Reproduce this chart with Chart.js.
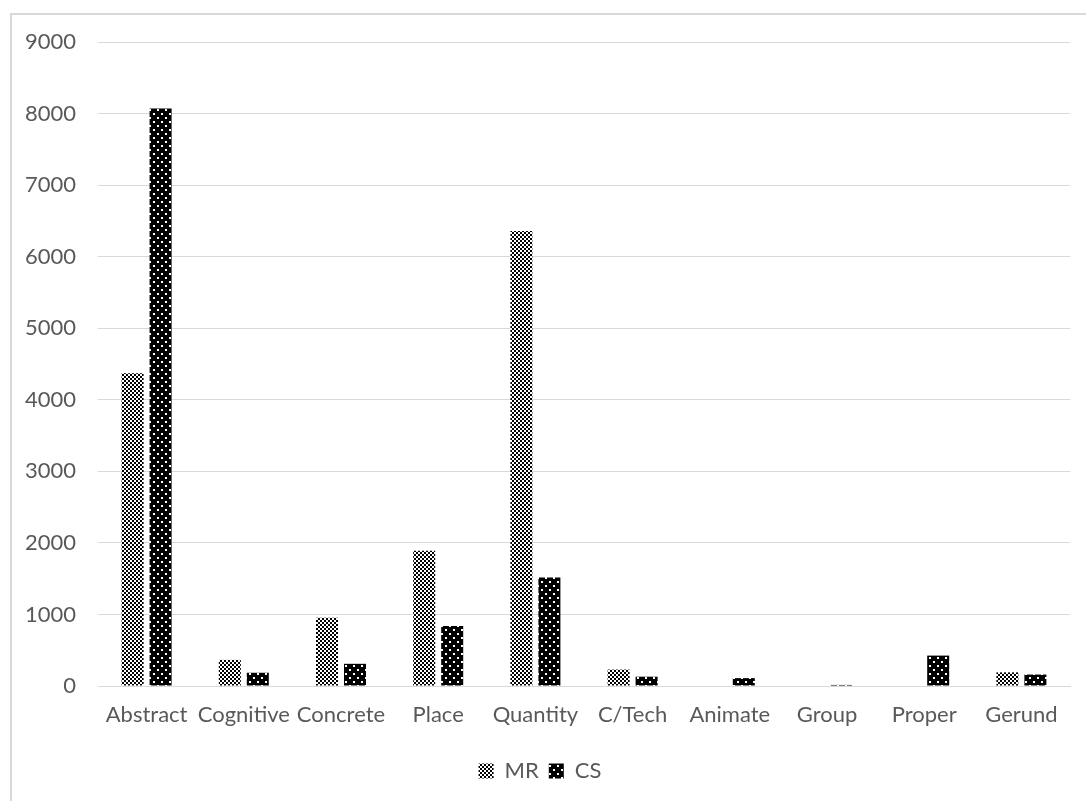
<!DOCTYPE html>
<html>
<head>
<meta charset="utf-8">
<script src="https://cdn.jsdelivr.net/npm/chart.js@4/dist/chart.umd.min.js"></script>
<style>
  html, body { margin: 0; padding: 0; background: #ffffff; }
  #wrap { position: relative; width: 1086px; height: 801px; overflow: hidden; }
  #frame { position: absolute; left: 10px; top: 13px; width: 1200px; height: 900px;
           border-left: 2px solid #d9d9d9; border-top: 2px solid #d9d9d9; box-sizing: border-box; }
  #c { position: absolute; left: 0; top: 0; }
</style>
</head>
<body>
<div id="wrap">
  <div id="frame"></div>
  <canvas id="c" width="1086" height="801"></canvas>
</div>
<script>
// Noun categories and counts per corpus
const categories = ['Abstract', 'Cognitive', 'Concrete', 'Place', 'Quantity', 'C/Tech', 'Animate', 'Group', 'Proper', 'Gerund'];
const mrValues = [4370, 365, 955, 1890, 6360, 230, 0, 0, 0, 190];
const csValues = [8070, 185, 310, 840, 1515, 130, 110, 15, 425, 160];
const yTicks = [0, 1000, 2000, 3000, 4000, 5000, 6000, 7000, 8000, 9000];

// Checkerboard fill for MR
function checkerPattern() {
  const t = document.createElement('canvas');
  t.width = 4; t.height = 4;
  const g = t.getContext('2d');
  g.fillStyle = '#ffffff'; g.fillRect(0, 0, 4, 4);
  g.fillStyle = '#000000';
  g.fillRect(0, 0, 2, 2); g.fillRect(2, 2, 2, 2);
  return g.createPattern(t, 'repeat');
}
// Black fill with staggered white dots for CS
function dotPattern() {
  const t = document.createElement('canvas');
  t.width = 8; t.height = 8;
  const g = t.getContext('2d');
  g.fillStyle = '#000000'; g.fillRect(0, 0, 8, 8);
  g.fillStyle = '#ffffff';
  g.fillRect(1, 1, 2, 2); g.fillRect(5, 5, 2, 2);
  return g.createPattern(t, 'repeat');
}

const FONT = { family: 'Lato, "Open Sans", sans-serif', size: 22 };
const TEXT = '#595959';

new Chart(document.getElementById('c'), {
  type: 'bar',
  data: {
    labels: categories,
    datasets: [
      { label: 'MR', data: mrValues, backgroundColor: checkerPattern(), borderWidth: 0,
        categoryPercentage: 0.576, barPercentage: 0.786 },
      { label: 'CS', data: csValues, backgroundColor: dotPattern(), borderWidth: 0,
        categoryPercentage: 0.576, barPercentage: 0.786 }
    ]
  },
  options: {
    responsive: false,
    animation: false,
    devicePixelRatio: 1,
    layout: { padding: { left: 10, right: 16, top: 42, bottom: 9 } },
    plugins: {
      tooltip: { enabled: false },
      legend: {
        position: 'bottom',
        labels: { color: TEXT, font: FONT, boxWidth: 15, boxHeight: 15, padding: 10 }
      }
    },
    scales: {
      x: {
        grid: { display: false, drawTicks: false },
        border: { display: true, color: '#d9d9d9', width: 1 },
        ticks: { color: TEXT, font: FONT, padding: 16, maxRotation: 0, autoSkip: false },
        afterFit: s => { s.height = 64; }
      },
      y: {
        min: 0, max: 9000,
        afterBuildTicks: s => { s.ticks = yTicks.map(v => ({ value: v })); },
        grid: { color: '#d9d9d9', lineWidth: 1, drawTicks: false },
        border: { display: false },
        ticks: { color: TEXT, font: FONT, padding: 22, callback: v => String(v) },
        afterFit: s => { s.width = 88; }
      }
    }
  }
});
</script>
</body>
</html>
